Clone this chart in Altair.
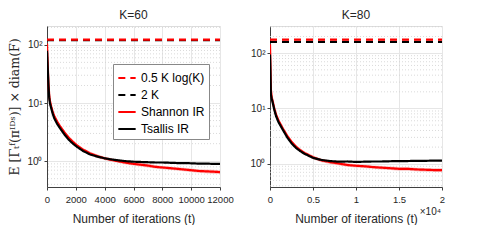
import altair as alt
import pandas as pd

FONT = "Liberation Sans"
names = ["0.5 K log(K)", "2 K", "Shannon IR", "Tsallis IR"]
colors = ["#ff0000", "#000000", "#ff0000", "#000000"]
dashes = [[7, 5], [7, 5], [1, 0], [1, 0]]
widths = [2.2, 2.2, 1.6, 1.6]

# ---------------- K = 60 ----------------
t60 = [0, 50, 100, 150, 200, 300, 400, 500, 700, 900, 1200, 1500, 1800, 2100, 2500,
       3000, 3500, 4000, 4500, 5000, 5500, 6000, 6500, 7000, 7500, 8000, 8500, 9000,
       9500, 10000, 10500, 11000, 11500, 12000]
tsallis60 = [79, 40, 20, 12.5, 10, 8, 6.5, 5.5, 4.4, 3.7, 2.9, 2.35, 2.0, 1.75, 1.5,
             1.3, 1.2, 1.12, 1.07, 1.03, 1.0, 0.98, 0.97, 0.96, 0.95, 0.95, 0.94, 0.93,
             0.93, 0.92, 0.91, 0.91, 0.9, 0.9]
shannon60 = [105, 45, 22, 14, 11, 8.6, 7, 6, 4.8, 4.0, 3.15, 2.55, 2.15, 1.85, 1.58,
             1.36, 1.22, 1.12, 1.05, 0.99, 0.94, 0.9, 0.87, 0.84, 0.8, 0.78, 0.76, 0.74,
             0.72, 0.7, 0.68, 0.67, 0.66, 0.65]
shannon60_lo = [95, 41, 20, 12.8, 10.1, 7.9, 6.4, 5.5, 4.4, 3.7, 2.9, 2.36, 2.0, 1.72, 1.47,
                1.27, 1.14, 1.05, 0.98, 0.93, 0.88, 0.84, 0.81, 0.78, 0.75, 0.73, 0.71, 0.69,
                0.67, 0.65, 0.63, 0.62, 0.61, 0.6]
shannon60_hi = [115, 49, 24, 15.2, 11.9, 9.3, 7.6, 6.5, 5.2, 4.3, 3.4, 2.74, 2.3, 1.98, 1.69,
                1.45, 1.3, 1.19, 1.12, 1.05, 1.0, 0.96, 0.93, 0.9, 0.86, 0.83, 0.81, 0.79,
                0.77, 0.75, 0.73, 0.72, 0.71, 0.7]
ref60 = [122.8, 120.0]   # 0.5 K log(K), 2 K

# ---------------- K = 80 ----------------
t80 = [0, 50, 100, 200, 300, 500, 700, 1000, 1500, 2000, 2500, 3000, 3500, 4000, 5000,
       6000, 7000, 8000, 9000, 10000, 11000, 12000, 13000, 14000, 15000, 16000, 17000,
       18000, 19000, 20000]
tsallis80 = [95, 45, 18, 15, 13, 9.5, 7.3, 5.6, 4.1, 3.0, 2.35, 1.95, 1.7, 1.52, 1.28,
             1.17, 1.12, 1.09, 1.1, 1.08, 1.09, 1.1, 1.1, 1.11, 1.12, 1.12, 1.13, 1.13,
             1.14, 1.14]
shannon80 = [145, 60, 22, 16, 13.8, 10, 7.8, 6, 4.3, 3.2, 2.5, 2.05, 1.77, 1.57, 1.31,
             1.15, 1.07, 1.01, 0.95, 0.92, 0.9, 0.87, 0.85, 0.83, 0.81, 0.81, 0.79, 0.78,
             0.77, 0.77]
shannon80_lo = [130, 54, 20, 14.6, 12.6, 9.2, 7.2, 5.5, 3.95, 2.95, 2.3, 1.89, 1.63, 1.45, 1.21,
                1.07, 0.99, 0.94, 0.88, 0.86, 0.84, 0.81, 0.79, 0.77, 0.75, 0.75, 0.73, 0.72,
                0.71, 0.71]
shannon80_hi = [160, 66, 24, 17.4, 15, 10.8, 8.4, 6.5, 4.65, 3.45, 2.7, 2.21, 1.91, 1.69, 1.41,
                1.23, 1.15, 1.08, 1.02, 0.98, 0.96, 0.93, 0.91, 0.89, 0.87, 0.87, 0.85, 0.84,
                0.83, 0.83]
ref80 = [175.3, 160.0]

minor_y = [m * 10 ** e for e in (-1, 0, 1, 2) for m in range(2, 10)]


def panel(title, t, sh, ts, lo, hi, ref, xmax, ydom, xticks, xlabel_expr, width, height, show_sci):
    lines = pd.DataFrame(
        [{"t": 0, "v": ref[1], "s": names[1]}, {"t": xmax, "v": ref[1], "s": names[1]},
         {"t": 0, "v": ref[0], "s": names[0]}, {"t": xmax, "v": ref[0], "s": names[0]}]
        + [{"t": a, "v": b, "s": names[2]} for a, b in zip(t, sh)]
        + [{"t": a, "v": b, "s": names[3]} for a, b in zip(t, ts)]
    )
    band = pd.DataFrame({"t": t, "lo": lo, "hi": hi})
    mins = pd.DataFrame({"v": [m for m in minor_y if ydom[0] < m < ydom[1]]})

    xs = alt.Scale(domain=[0, xmax], nice=False, zero=False)
    ys = alt.Scale(type="log", domain=ydom, nice=False)
    xaxis = alt.Axis(values=xticks, labelExpr=xlabel_expr, title="Number of iterations (t)",
                     grid=True, gridColor="#e6e6e6", labelFont=FONT, labelFontSize=9.5,
                     labelOverlap=False, labelFlush=False, labelBound=False,
                     titleFont=FONT, titleFontSize=12, titleFontWeight="normal",
                     titleColor="#262626", labelColor="#262626", domainColor="#404040",
                     tickColor="#404040", tickSize=3, titlePadding=10, labelPadding=4)
    yaxis = alt.Axis(values=[1, 10, 100],
                     labelExpr="datum.value == 1 ? '10⁰' : datum.value == 10 ? '10¹' : '10²'",
                     grid=True, gridColor="#e6e6e6", labelFont=FONT, labelFontSize=10,
                     labelColor="#262626", domainColor="#404040", tickColor="#404040",
                     tickSize=3,
                     title="E [Γₜᶠ(πᴵᴰˢ)] × diam(F)" if show_sci is False else None,
                     titleFont="DejaVu Serif", titleFontSize=12.5, titleFontWeight="normal",
                     titleColor="#262626", titlePadding=5)

    minor = alt.Chart(mins).mark_rule(color="#d0d0d0", strokeDash=[1, 2], strokeWidth=0.8).encode(
        y=alt.Y("v:Q", scale=ys, axis=yaxis))
    area = alt.Chart(band).mark_area(color="#f7b3b3", opacity=0.8).encode(
        x=alt.X("t:Q", scale=xs, axis=xaxis), y=alt.Y("lo:Q", scale=ys, axis=yaxis), y2="hi:Q")
    ln = alt.Chart(lines).mark_line(clip=True).encode(
        x=alt.X("t:Q", scale=xs, axis=xaxis),
        y=alt.Y("v:Q", scale=ys, axis=yaxis),
        color=alt.Color("s:N", scale=alt.Scale(domain=names, range=colors), title=None,
                        legend=alt.Legend(orient="none", legendX=66, legendY=38,
                                          symbolType="stroke", symbolStrokeWidth=2,
                                          symbolSize=300, labelFont=FONT, labelFontSize=12,
                                          labelColor="#000", fillColor="white",
                                          strokeColor="#888", padding=4, rowPadding=1)),
        strokeDash=alt.StrokeDash("s:N", scale=alt.Scale(domain=names, range=dashes), title=None),
        strokeWidth=alt.StrokeWidth("s:N", scale=alt.Scale(domain=names, range=widths),
                                    legend=None),
    )
    layers = [minor, area, ln]
    if show_sci:
        sci = alt.Chart(pd.DataFrame({"lbl": ["×10⁴"]})).mark_text(
            font=FONT, fontSize=10, color="#262626", align="right").encode(
            text="lbl:N", x=alt.value(width - 1), y=alt.value(height + 25))
        layers.append(sci)
    return alt.layer(*layers).properties(
        width=width, height=height,
        title=alt.TitleParams(title, font=FONT, fontSize=12, fontWeight="normal",
                              color="#262626", offset=4))


left = panel("K=60", t60, shannon60, tsallis60, shannon60_lo, shannon60_hi, ref60, 12000,
             [0.36, 211], [0, 2000, 4000, 6000, 8000, 10000, 12000], "datum.value", 173, 161, False)
right = panel("K=80", t80, shannon80, tsallis80, shannon80_lo, shannon80_hi, ref80, 20000,
              [0.38, 310], [0, 5000, 10000, 15000, 20000], "datum.value / 10000", 172, 161, True)

chart = alt.hconcat(left, right, spacing=15).resolve_scale(
    x="independent", y="independent", color="shared", strokeDash="shared", strokeWidth="shared"
).properties(padding={"left": 0, "top": 0, "right": 0, "bottom": 0}).configure_view(
    stroke="#e6e6e6").configure(background="white")

chart.save("out.html", embed_options={"renderer": "svg", "actions": False})
